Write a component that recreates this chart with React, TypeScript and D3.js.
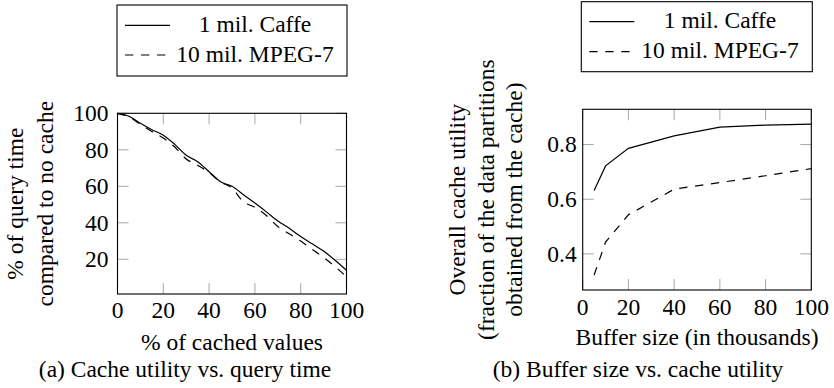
import React from "react";
import * as d3 from "d3";

const seriesNames = ["1 mil. Caffe", "10 mil. MPEG-7"];

// Chart (a)
const cachedPct = [0, 5, 10, 15, 20, 25, 30, 35, 40, 45, 50, 55, 60, 65, 70, 75, 80, 85, 90, 95, 100];
const queryTimeCaffe = [100, 98.4, 94.5, 91, 88, 83, 77, 73.5, 68, 62.5, 60, 55.4, 50.8, 46, 41, 37, 32.5, 28.5, 24.5, 19.5, 14];
const queryTimeMpeg = [100, 98, 94, 90, 86.5, 81.5, 75, 71.5, 67.5, 62.5, 59, 51.5, 48.5, 44, 38, 34, 30, 25.5, 21, 16, 10.5];
const aXTicks = [0, 20, 40, 60, 80, 100];
const aYTicks = [20, 40, 60, 80, 100];

// Chart (b)
const bufferSize = [5, 10, 20, 40, 60, 80, 100];
const utilityCaffe = [0.632, 0.722, 0.786, 0.832, 0.864, 0.871, 0.875];
const utilityMpeg = [0.323, 0.443, 0.543, 0.637, 0.661, 0.686, 0.712];
const bXTicks = [0, 20, 40, 60, 80, 100];
const bYTicks = [0.4, 0.6, 0.8];

const FONT = "Liberation Serif";
const FS = 23.5;
const TICK_COLOR = "#a8a8a8";
const DASH = "8.3,7.7";

type Box = { x0: number; x1: number; y0: number; y1: number };

const T = (props: any) => <text fontFamily={FONT} fontSize={FS} fill="#000" {...props} />;

function Axes({ box, xs, ys, xTicks, yTicks, yFmt, xLabelDy, yLabelGap }: any) {
  const tl = 11;
  return (
    <g>
      {xTicks.map((t: number, i: number) => (
        <g key={"xt" + i}>
          <line x1={xs(t)} x2={xs(t)} y1={box.y1} y2={box.y1 - tl} stroke={TICK_COLOR} strokeWidth={1} />
          <line x1={xs(t)} x2={xs(t)} y1={box.y0} y2={box.y0 + tl} stroke={TICK_COLOR} strokeWidth={1} />
          <T x={xs(t)} y={box.y1 + xLabelDy} dy="0.33em" textAnchor="middle">
            {t}
          </T>
        </g>
      ))}
      {yTicks.map((t: number, i: number) => (
        <g key={"yt" + i}>
          <line x1={box.x0} x2={box.x0 + tl} y1={ys(t)} y2={ys(t)} stroke={TICK_COLOR} strokeWidth={1} />
          <line x1={box.x1} x2={box.x1 - tl} y1={ys(t)} y2={ys(t)} stroke={TICK_COLOR} strokeWidth={1} />
          <T x={box.x0 - yLabelGap} y={ys(t)} dy="0.33em" textAnchor="end">
            {yFmt(t)}
          </T>
        </g>
      ))}
      <rect x={box.x0} y={box.y0} width={box.x1 - box.x0} height={box.y1 - box.y0} fill="none" stroke="#000" strokeWidth={1.1} />
    </g>
  );
}

function Legend({ x0, x1, y0, y1, rowY, textCx }: any) {
  return (
    <g>
      <rect x={x0} y={y0} width={x1 - x0} height={y1 - y0} fill="#fff" stroke="#000" strokeWidth={1.1} />
      {seriesNames.map((n, i) => (
        <g key={n}>
          <line x1={x0 + 8} x2={x0 + 53} y1={rowY[i]} y2={rowY[i]} stroke="#000" strokeWidth={1.2} strokeDasharray={i === 1 ? DASH : undefined} />
          <T x={textCx} y={rowY[i] + 6.5} textAnchor="middle">
            {n}
          </T>
        </g>
      ))}
    </g>
  );
}

export default function App() {
  // Chart (a)
  const aBox: Box = { x0: 117.5, x1: 346.5, y0: 113.3, y1: 294 };
  const axs = d3.scaleLinear().domain([0, 100]).range([aBox.x0, aBox.x1]);
  const ays = d3.scaleLinear().domain([1, 100]).range([aBox.y1, aBox.y0]);
  const aLine = (ys: number[]) =>
    d3
      .line<number>()
      .x((_, i) => axs(cachedPct[i]))
      .y((d) => ays(d))
      .curve(d3.curveMonotoneX)(ys) as string;

  // Chart (b)
  const bBox: Box = { x0: 582.7, x1: 811.3, y0: 109.3, y1: 290 };
  const bxs = d3.scaleLinear().domain([0, 100]).range([bBox.x0, bBox.x1]);
  const bys = d3.scaleLinear().domain([0.268, 0.929]).range([bBox.y1, bBox.y0]);
  const bLine = (ys: number[]) =>
    d3
      .line<number>()
      .x((_, i) => bxs(bufferSize[i]))
      .y((d) => bys(d))(ys) as string;

  const aMidY = (aBox.y0 + aBox.y1) / 2;
  const bMidY = (bBox.y0 + bBox.y1) / 2;

  return (
    <svg width={834} height={388} style={{ position: "absolute", left: 0, top: 0, background: "#fff" }}>
      <rect x={0} y={0} width={834} height={388} fill="#fff" />
      {/* Chart (a) */}
      <path d={aLine(queryTimeCaffe)} fill="none" stroke="#000" strokeWidth={1.2} />
      <path d={aLine(queryTimeMpeg)} fill="none" stroke="#000" strokeWidth={1.2} strokeDasharray={DASH} />
      <Axes box={aBox} xs={axs} ys={ays} xTicks={aXTicks} yTicks={aYTicks} yFmt={(t: number) => String(t)} xLabelDy={16} yLabelGap={9} />
      <Legend x0={117} x1={347} y0={5} y1={76} rowY={[25.3, 55]} textCx={255} />
      <T transform={`translate(15,${aMidY}) rotate(-90)`} dy="0.33em" textAnchor="middle">
        % of query time
      </T>
      <T transform={`translate(45,${aMidY}) rotate(-90)`} dy="0.33em" textAnchor="middle">
        compared to no cache
      </T>
      <T x={232} y={350} textAnchor="middle">
        % of cached values
      </T>
      <T x={185} y={376.5} textAnchor="middle">
        (a) Cache utility vs. query time
      </T>

      {/* Chart (b) */}
      <path d={bLine(utilityCaffe)} fill="none" stroke="#000" strokeWidth={1.2} />
      <path d={bLine(utilityMpeg)} fill="none" stroke="#000" strokeWidth={1.2} strokeDasharray={DASH} />
      <Axes box={bBox} xs={bxs} ys={bys} xTicks={bXTicks} yTicks={bYTicks} yFmt={(t: number) => t.toFixed(1)} xLabelDy={17.5} yLabelGap={6} />
      <Legend x0={581.3} x1={812.3} y0={1.7} y1={71.7} rowY={[21.7, 51.7]} textCx={720} />
      <T transform={`translate(457.5,${bMidY}) rotate(-90)`} dy="0.33em" textAnchor="middle">
        Overall cache utility
      </T>
      <T transform={`translate(486,${bMidY}) rotate(-90)`} dy="0.33em" textAnchor="middle">
        (fraction of the data partitions
      </T>
      <T transform={`translate(514,${bMidY}) rotate(-90)`} dy="0.33em" textAnchor="middle">
        obtained from the cache)
      </T>
      <T x={697} y={345} textAnchor="middle">
        Buffer size (in thousands)
      </T>
      <T x={638} y={376.5} textAnchor="middle">
        (b) Buffer size vs. cache utility
      </T>
    </svg>
  );
}
